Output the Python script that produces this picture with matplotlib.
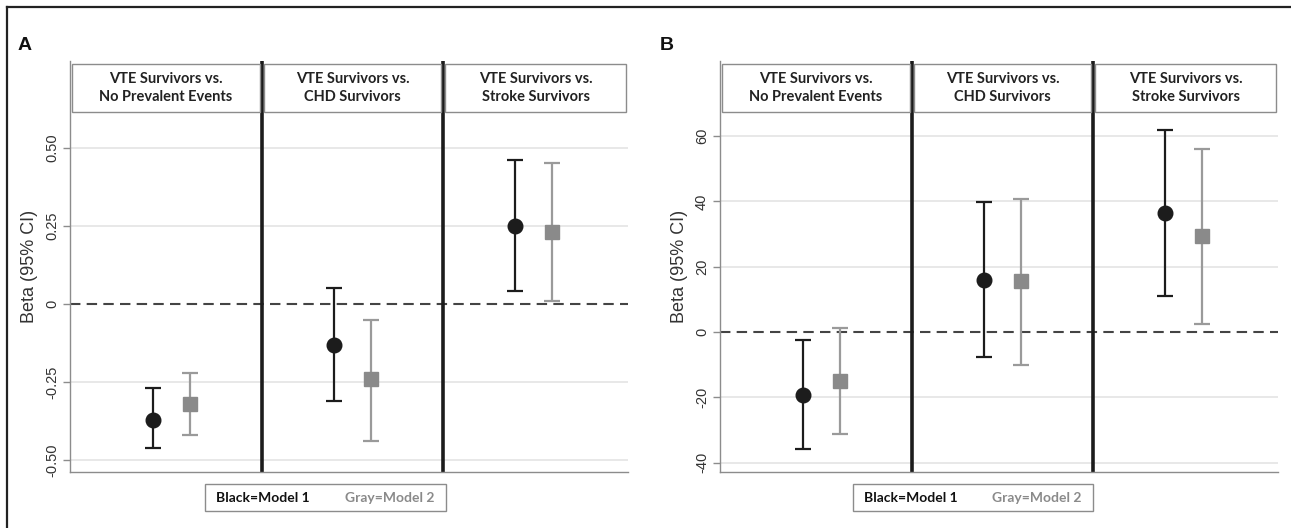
import matplotlib
matplotlib.use("Agg")
import matplotlib.pyplot as plt
from matplotlib.patches import Rectangle
from matplotlib.lines import Line2D

# ---------------- data ----------------
categories = ["VTE Survivors vs.\nNo Prevalent Events",
              "VTE Survivors vs.\nCHD Survivors",
              "VTE Survivors vs.\nStroke Survivors"]
panel_labels = ["A", "B"]

a_m1_est = [-0.37, -0.13, 0.25]
a_m1_lo = [-0.46, -0.31, 0.04]
a_m1_hi = [-0.27, 0.05, 0.46]
a_m2_est = [-0.32, -0.24, 0.23]
a_m2_lo = [-0.42, -0.44, 0.01]
a_m2_hi = [-0.22, -0.05, 0.45]

b_m1_est = [-19.4, 16.0, 36.4]
b_m1_lo = [-36.0, -7.7, 11.0]
b_m1_hi = [-2.5, 39.8, 62.0]
b_m2_est = [-15.1, 15.5, 29.3]
b_m2_lo = [-31.3, -10.0, 2.5]
b_m2_hi = [1.3, 40.8, 56.1]

a_ticks = [-0.5, -0.25, 0, 0.25, 0.5]
a_ticklabels = ["-0.50", "-0.25", "0", "0.25", "0.50"]
b_ticks = [-40, -20, 0, 20, 40, 60]
b_ticklabels = ["-40", "-20", "0", "20", "40", "60"]

legend_m1 = "Black=Model 1"
legend_m2 = "Gray=Model 2"
ylabel = "Beta (95% CI)"

# ---------------- style ----------------
W, H = 1291, 528
fig = plt.figure(figsize=(W / 100, H / 100), dpi=100)
fig.patch.set_facecolor("white")

BLACK = "#1c1c1c"
GRAY_M = "#8a8a8a"
GRAY_L = "#9a9a9a"
AXC = "#8c8c8c"
GRIDC = "#e4e4e4"
HEAD_FONT = ["Lato", "DejaVu Sans"]
TICK_FONT = ["Liberation Sans", "DejaVu Sans"]

def px_rect(x0, y0, x1, y1):
    return [x0 / W, 1 - y1 / H, (x1 - x0) / W, (y1 - y0) / H]

# outer frame (left and top lines)
fig.add_artist(Line2D([7 / W, 7 / W], [0, 1 - 7 / H], transform=fig.transFigure,
                      color="#222222", lw=1.6))
fig.add_artist(Line2D([7 / W, 1], [1 - 7 / H, 1 - 7 / H], transform=fig.transFigure,
                      color="#222222", lw=1.6))

panels = [
    dict(x0=70, x1=628, ylim=(-0.538, 0.778), ticks=a_ticks, tlabels=a_ticklabels,
         m1=(a_m1_est, a_m1_lo, a_m1_hi), m2=(a_m2_est, a_m2_lo, a_m2_hi),
         label_x=18, leg=(205, 446)),
    dict(x0=720, x1=1278, ylim=(-42.9, 83.0), ticks=b_ticks, tlabels=b_ticklabels,
         m1=(b_m1_est, b_m1_lo, b_m1_hi), m2=(b_m2_est, b_m2_lo, b_m2_hi),
         label_x=660, leg=(853, 1093)),
]

XL = (-0.56, 2.52)
for p, plab in zip(panels, panel_labels):
    ax = fig.add_axes(px_rect(p["x0"], 61, p["x1"], 472))
    ax.set_xlim(*XL)
    ax.set_ylim(*p["ylim"])
    for s in ["top", "right"]:
        ax.spines[s].set_visible(False)
    for s in ["left", "bottom"]:
        ax.spines[s].set_color(AXC)
        ax.spines[s].set_linewidth(1.0)
    ax.set_xticks([])
    ax.set_yticks(p["ticks"])
    ax.set_yticklabels(p["tlabels"], rotation=90, va="center",
                       fontsize=10.5, family=TICK_FONT, color="#333333")
    ax.tick_params(axis="y", length=5, width=1, color=AXC, pad=3)
    for t in p["ticks"]:
        if t != 0:
            ax.axhline(t, color=GRIDC, lw=1.2, zorder=0)
    ax.axhline(0, color="#444444", lw=1.5, ls=(0, (5, 3)), zorder=1)
    for sep in [0.5, 1.5]:
        ax.axvline(sep, color=BLACK, lw=2.6, zorder=2)
    ax.set_ylabel(ylabel, fontsize=13, family=TICK_FONT, color="#333333", labelpad=5)

    xs = range(len(categories))
    off = 0.102
    est, lo, hi = p["m1"]
    ax.errorbar([x - off for x in xs], est,
                yerr=[[e - l for e, l in zip(est, lo)], [h - e for e, h in zip(est, hi)]],
                fmt="o", color=BLACK, ecolor=BLACK, elinewidth=1.6, capsize=5.5,
                capthick=1.6, markersize=10.5, zorder=5)
    est, lo, hi = p["m2"]
    ax.errorbar([x + off for x in xs], est,
                yerr=[[e - l for e, l in zip(est, lo)], [h - e for e, h in zip(est, hi)]],
                fmt="s", color=GRAY_M, ecolor=GRAY_L, elinewidth=1.6, capsize=5.5,
                capthick=1.6, markersize=10, zorder=5)

    # header boxes
    bounds = [XL[0], 0.5, 1.5, XL[1]]
    g = 0.012
    ytr = ax.get_xaxis_transform()
    for i, cat in enumerate(categories):
        bx0 = bounds[i] + g
        bx1 = bounds[i + 1] - g
        ax.add_patch(Rectangle((bx0, 0.876), bx1 - bx0, 0.117, transform=ytr,
                               facecolor="white", edgecolor=AXC, lw=1.0,
                               zorder=6, clip_on=False))
        ax.text((bx0 + bx1) / 2, 0.9345, cat, transform=ytr, ha="center", va="center",
                fontsize=10.5, fontweight="bold", family=HEAD_FONT, color="#222222",
                linespacing=1.35, zorder=7)

    # panel label
    fig.text(p["label_x"] / W, 1 - 45 / H, plab, fontsize=14, fontweight="bold",
             family=TICK_FONT, va="center", ha="left", color="#111111")

    # legend box
    lx0, lx1 = p["leg"]
    fig.add_artist(Rectangle((lx0 / W, 1 - 511 / H), (lx1 - lx0) / W, 27 / H,
                             transform=fig.transFigure, facecolor="white",
                             edgecolor=AXC, lw=1.0))
    fig.text((lx0 + 11) / W, 1 - 497.5 / H, legend_m1, fontsize=10, fontweight="bold",
             family=HEAD_FONT, color="#111111", va="center", ha="left")
    fig.text((lx1 - 11) / W, 1 - 497.5 / H, legend_m2, fontsize=10, fontweight="bold",
             family=HEAD_FONT, color="#8a8a8a", va="center", ha="right")

fig.savefig("out.png", dpi=100, facecolor="white")
